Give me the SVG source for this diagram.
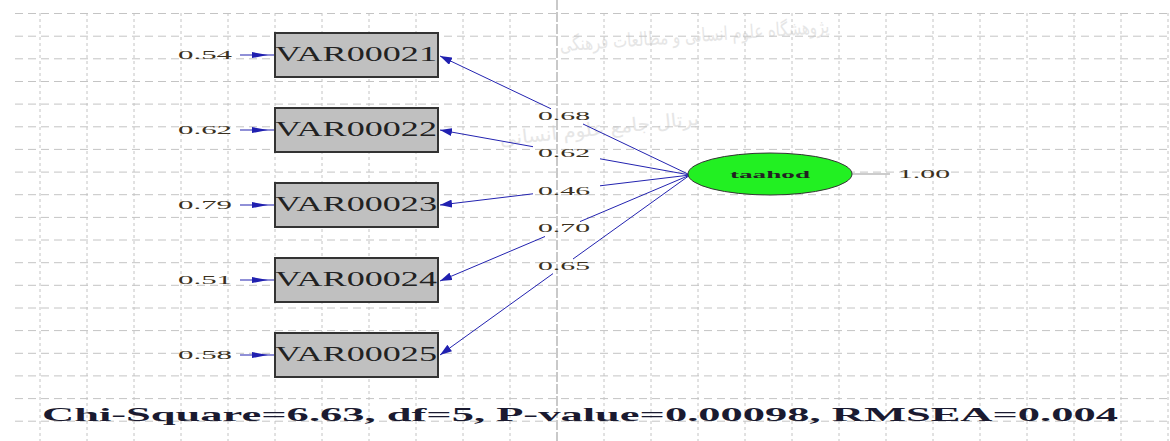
<svg xmlns="http://www.w3.org/2000/svg" width="1170" height="441" viewBox="0 0 1170 441">
<style>
.gh{stroke:#c4c4c4;stroke-width:1;stroke-dasharray:8 5;fill:none}
.gv{stroke:#c4c4c4;stroke-width:1;stroke-dasharray:3 3;fill:none}
.box{fill:#c0c0c0;stroke:#333;stroke-width:2}
.bt{font-family:"Liberation Serif",serif;font-size:20px;fill:#222}
.sm{font-family:"Liberation Serif",serif;font-size:12px;fill:#3a3020}
.ld{stroke:#2323b0;stroke-width:1;fill:none}
.err{stroke:#2323b0;stroke-width:1.2;fill:none}
.wm{font-family:"DejaVu Sans",sans-serif;fill:#e6e6e6}
</style>
<defs>
<marker id="ah" viewBox="0 0 12 8" refX="12" refY="4" markerWidth="12" markerHeight="8" markerUnits="userSpaceOnUse" orient="auto">
<path d="M0,0 L12,4 L0,8 Z" fill="#2020b0"/>
</marker>
</defs>
<rect width="1170" height="441" fill="#fff"/>
<g id="watermark">
<text class="wm" x="695" y="42" font-size="19" text-anchor="middle" textLength="270" lengthAdjust="spacingAndGlyphs" transform="rotate(-4 695 42)">پژوهشگاه علوم انسانی و مطالعات فرهنگی</text>
<text class="wm" x="600" y="135" font-size="19" text-anchor="middle" textLength="200" lengthAdjust="spacingAndGlyphs" transform="rotate(-6 600 135)">پرتال جامع علوم انسانی</text>
</g>
<g id="grid">
<path class="gh" d="M15,13.5H1170M15,36.2H1170M15,58.8H1170M15,81.5H1170M15,104.1H1170M15,126.8H1170M15,149.4H1170M15,172.1H1170M15,194.7H1170M15,217.4H1170M15,240H1170M15,262.7H1170M15,285.3H1170M15,308H1170M15,330.6H1170M15,353.3H1170M15,375.9H1170M15,398.6H1170M15,421.2H1170"/>
<path class="gv" d="M40,13V441M87,13V441M134,13V441M181,13V441M228,13V441M275,13V441M322,13V441M369,13V441M416,13V441M463,13V441M510,13V441M604,13V441M651,13V441M698,13V441M745,13V441M792,13V441M839,13V441M886,13V441M933,13V441M980,13V441M1027,13V441M1074,13V441M1121,13V441M1168,13V441"/>
<path d="M557,0V441" stroke="#b8b8b8" stroke-width="1.5" stroke-dasharray="10 2"/>
</g>
<g id="connectors">
<path class="ld" d="M551,108.8L440,56" marker-end="url(#ah)"/>
<path class="ld" d="M690,175L583,124"/>
<path class="ld" d="M533,146.7L440,130" marker-end="url(#ah)"/>
<path class="ld" d="M690,175L600,158.8"/>
<path class="ld" d="M533,193.8L440,205" marker-end="url(#ah)"/>
<path class="ld" d="M690,175L600,185.8"/>
<path class="ld" d="M545,236.5L440,281" marker-end="url(#ah)"/>
<path class="ld" d="M690,175L580,221.6"/>
<path class="ld" d="M553,273.6L440,355" marker-end="url(#ah)"/>
<path class="ld" d="M690,175L573,259"/>
<path class="err" d="M240,55H275M240,130H275M240,205H275M240,280H275M240,355H275"/>
<path d="M252,52L268,55L252,58Z M252,127L268,130L252,133Z M252,202L268,205L252,208Z M252,277L268,280L252,283Z M252,352L268,355L252,358Z" fill="#2020b0"/>
<path d="M852,174H890" stroke="#999" stroke-width="1"/>
</g>
<g id="labels">
<text class="sm" x="538" y="120" textLength="52" lengthAdjust="spacingAndGlyphs">0.68</text>
<text class="sm" x="538" y="157" textLength="52" lengthAdjust="spacingAndGlyphs">0.62</text>
<text class="sm" x="538" y="195" textLength="52" lengthAdjust="spacingAndGlyphs">0.46</text>
<text class="sm" x="538" y="232" textLength="52" lengthAdjust="spacingAndGlyphs">0.70</text>
<text class="sm" x="538" y="270" textLength="52" lengthAdjust="spacingAndGlyphs">0.65</text>
<text class="sm" x="178" y="59" textLength="54" lengthAdjust="spacingAndGlyphs">0.54</text>
<text class="sm" x="178" y="134" textLength="54" lengthAdjust="spacingAndGlyphs">0.62</text>
<text class="sm" x="178" y="209" textLength="54" lengthAdjust="spacingAndGlyphs">0.79</text>
<text class="sm" x="178" y="284" textLength="54" lengthAdjust="spacingAndGlyphs">0.51</text>
<text class="sm" x="178" y="359" textLength="54" lengthAdjust="spacingAndGlyphs">0.58</text>
<text class="sm" x="898" y="178" textLength="52" lengthAdjust="spacingAndGlyphs">1.00</text>
</g>
<g id="VAR00021"><rect class="box" x="275" y="33" width="163" height="44"/><text class="bt" x="275" y="61" textLength="162" lengthAdjust="spacingAndGlyphs">VAR00021</text></g>
<g id="VAR00022"><rect class="box" x="275" y="108" width="163" height="44"/><text class="bt" x="275" y="136" textLength="162" lengthAdjust="spacingAndGlyphs">VAR00022</text></g>
<g id="VAR00023"><rect class="box" x="275" y="183" width="163" height="44"/><text class="bt" x="275" y="211" textLength="162" lengthAdjust="spacingAndGlyphs">VAR00023</text></g>
<g id="VAR00024"><rect class="box" x="275" y="258" width="163" height="44"/><text class="bt" x="275" y="286" textLength="162" lengthAdjust="spacingAndGlyphs">VAR00024</text></g>
<g id="VAR00025"><rect class="box" x="275" y="333" width="163" height="44"/><text class="bt" x="275" y="361" textLength="162" lengthAdjust="spacingAndGlyphs">VAR00025</text></g>
<g id="taahod"><ellipse cx="770" cy="174" rx="82" ry="21" fill="#22f022" stroke="#333" stroke-width="1"/><text x="770" y="178" text-anchor="middle" font-family="Liberation Serif,serif" font-size="11" font-weight="bold" fill="#222" textLength="80" lengthAdjust="spacingAndGlyphs">taahod</text></g>
<g id="fit"><text x="42" y="421" font-family="Liberation Serif,serif" font-size="19" font-weight="bold" fill="#1a1a30" textLength="1076" lengthAdjust="spacingAndGlyphs">Chi-Square=6.63, df=5, P-value=0.00098, RMSEA=0.004</text></g>
</svg>
